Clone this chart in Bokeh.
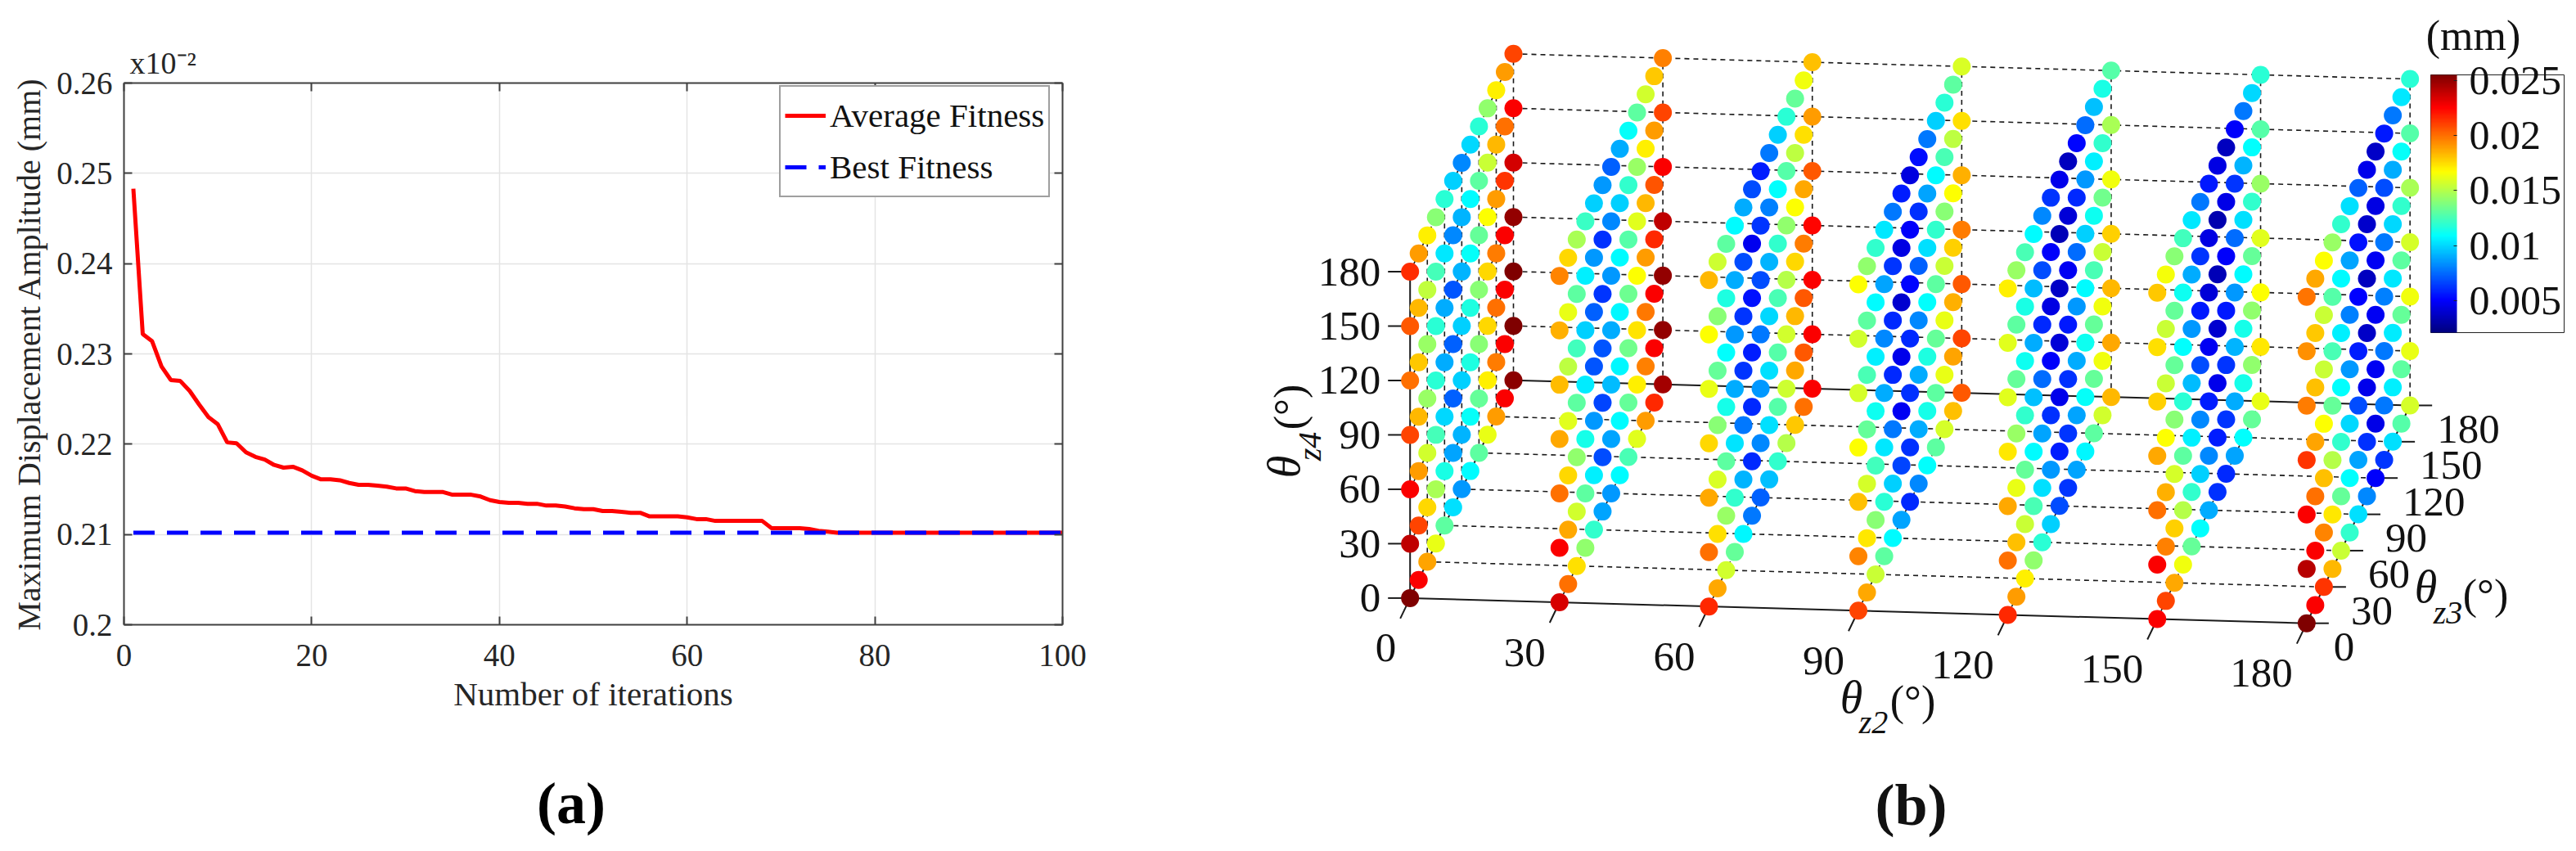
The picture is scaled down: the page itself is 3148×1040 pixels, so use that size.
import numpy as np
from bokeh.plotting import figure
from bokeh.layouts import row, column
from bokeh.embed import file_html
from bokeh.resources import INLINE
from bokeh.core.properties import value
from bokeh.models import (Range1d, LinearAxis, FixedTicker, Legend, LegendItem, Title,
                          LinearColorMapper, ColorBar, ColumnDataSource)
from bokeh.transform import transform

SERIF = "Liberation Serif"

# ---------- panel (a) data ----------
iterations = list(range(1, 101))
average_fitness = [
    .2483, .2322, .2314, .2286, .2271, .2270, .2259, .2244, .2230, .2222,
    .2202, .2201, .2191, .2186, .2183, .2177, .2174, .2175, .2171, .2165,
    .2161, .2161, .2160, .2157, .2155, .2155, .2154, .2153, .2151, .2151,
    .2148, .2147, .2147, .2147, .2144, .2144, .2144, .2142, .2138, .2136,
    .2135, .2135, .2134, .2134, .2132, .2132, .2131, .2129, .2128, .2128,
    .2126, .2126, .2125, .2124, .2124, .2120, .2120, .2120, .2120, .2119,
    .2117, .2117, .2115, .2115, .2115, .2115, .2115, .2115, .2107, .2107,
    .2107, .2107, .2106, .2104, .2103, .2102, .2102, .2102, .2102, .2102,
    .2102, .2102, .2102, .2102, .2102, .2102, .2102, .2102, .2102, .2102,
    .2102, .2102, .2102, .2102, .2102, .2102, .2102, .2102, .2102, .2102]
best_fitness = [.2102] * 100
x_ticks = [0, 20, 40, 60, 80, 100]
y_ticks = [0.2, 0.21, 0.22, 0.23, 0.24, 0.25, 0.26]
y_tick_labels = ["0.2", "0.21", "0.22", "0.23", "0.24", "0.25", "0.26"]

# ---------- panel (b) data: amplitude x1000 mm, per slice of theta_z2,
# one row per theta_z3 = 0, 15, ... 180; columns theta_z4 = 0, 30, ... 180
amp_z2_0 = [
    [25.5, 24, 22.6, 21, 20, 20.5, 21.5],
    [22.6, 21, 19, 18.3, 18, 18.3, 19],
    [18.8, 17.6, 15.7, 14.4, 14.4, 15.3, 17],
    [16.2, 14.8, 12.5, 11.8, 11.8, 12.5, 14],
    [13, 11.5, 10, 9, 9, 10.4, 11.8],
    [10.2, 8.8, 7.3, 7.3, 7, 8.2, 9.8],
    [8.5, 9.2, 9.8, 9.8, 9.2, 9.2, 8.2],
    [10.8, 11, 11.6, 11.6, 11, 10.8, 10],
    [13, 13.2, 14, 14, 13.2, 13, 11.8],
    [16.2, 17, 17.6, 17.6, 16.7, 15.5, 14.2],
    [19, 19.7, 20, 19.7, 19, 18.3, 17],
    [22.6, 22.6, 22.6, 22.6, 21.3, 20, 19],
    [25.2, 25.5, 25.5, 25, 23.5, 22.6, 21]]
amp_z2_30 = [
    [23.4, 22.6, 20, 18.7, 18.2, 18.5, 19.5],
    [20, 18.7, 17.6, 16, 15.2, 16.2, 17.6],
    [17.4, 15.7, 14.2, 13, 12.4, 13, 14.8],
    [14.2, 13, 11.4, 10.5, 9.8, 10.6, 12.2],
    [12, 10.6, 8.5, 7, 7.3, 8.5, 9.8],
    [8.8, 6.8, 6.6, 7, 6.3, 6.2, 8.5],
    [8.5, 8.8, 9.4, 9, 8.5, 8.2, 7.3],
    [10.8, 10.8, 10.7, 10.7, 10.8, 9.8, 9],
    [12.6, 13.2, 13.5, 13.4, 12.8, 12, 11],
    [16, 17, 17.3, 16.7, 16, 14.4, 13],
    [19, 19.6, 19.8, 19, 18.3, 17, 15.7],
    [21.6, 22.6, 22.6, 21.6, 20.6, 19, 18],
    [24.6, 25, 25, 24, 22.6, 21, 19.6]]
amp_z2_60 = [
    [21.6, 20, 18.7, 17.6, 16.2, 16.7, 18.3],
    [18.7, 17.4, 15.9, 14, 13.2, 14, 15.6],
    [15.7, 14.4, 13, 11.4, 10.9, 11.6, 13],
    [13.2, 12, 10.3, 9, 8.5, 9, 10.8],
    [10.7, 9.2, 7.8, 6.3, 6.3, 6.8, 9],
    [7.8, 6, 6, 5.7, 5.4, 4.7, 6.8],
    [7.3, 8.2, 8.5, 7.8, 6.8, 6.3, 5.7],
    [9.5, 10.2, 10.2, 10, 9.2, 8, 7.8],
    [12, 12.8, 12.8, 12.6, 12, 10.9, 9.8],
    [15, 15.6, 15.7, 15, 14.2, 12.8, 11.8],
    [18, 18.7, 18.3, 17.6, 16.7, 15.2, 13.2],
    [20, 20.5, 20.5, 19.7, 18.7, 17.4, 16.4],
    [22.6, 22.6, 22.6, 22.4, 20.5, 19, 18.1]]
amp_z2_90 = [
    [21, 19.5, 18.1, 16.7, 15.8, 15.7, 16.7],
    [18.7, 17.2, 15.8, 13.2, 12.6, 13, 14.2],
    [15.5, 14, 12.4, 11.2, 10.6, 10.8, 12],
    [13, 11.8, 10.4, 9, 8.2, 8.8, 10.4],
    [10.8, 9.8, 7.8, 6, 6, 6.3, 7.8],
    [8.8, 6.6, 4.8, 4.6, 4, 4.4, 5.7],
    [6, 6.2, 6.2, 6, 5.2, 5, 4.3],
    [8.2, 9, 9, 8.2, 7.3, 6.2, 5.3],
    [10.9, 11.4, 11.6, 10.9, 10.2, 8.8, 7.8],
    [13, 13, 13.2, 13, 12, 10.8, 9.8],
    [15.8, 16.2, 16.2, 15.5, 14, 12.6, 11.8],
    [18.1, 18.8, 18.5, 17.8, 16.7, 15.2, 13],
    [20.5, 21, 20.5, 19.7, 18.5, 17.4, 15.9]]
amp_z2_120 = [
    [21.6, 20, 18.7, 17.2, 16, 16, 17],
    [19, 18.1, 16.2, 14.4, 13.2, 13, 14.4],
    [17, 15.5, 13.2, 12, 11.2, 11.5, 12.6],
    [14.2, 12.6, 10.8, 9.5, 9, 9.4, 10.8],
    [11.8, 10.2, 8.8, 7.5, 6, 6.8, 8.2],
    [9.8, 8.5, 6.2, 5, 4.4, 5, 6.3],
    [6.8, 5.7, 4.6, 4.2, 3.8, 3.4, 4.6],
    [6.3, 6.3, 6.2, 5.6, 4.8, 4.2, 3.6],
    [8.8, 8.8, 9, 8.5, 7.5, 6, 5.2],
    [10.7, 11, 11.2, 10.8, 9.8, 8.5, 7.5],
    [13, 13.2, 13.2, 12.6, 11.2, 10.6, 9.5],
    [15.7, 16.4, 16.4, 15.5, 13.5, 12, 11.5],
    [18.3, 18.7, 18.3, 17.8, 16.4, 14.8, 12.8]]
amp_z2_150 = [
    [22.6, 22.6, 20, 18.7, 17.8, 17.4, 18],
    [21, 19.6, 18.5, 16.7, 15.5, 15.5, 16.5],
    [18.7, 17.8, 15.8, 14, 13.2, 13.2, 14],
    [16.4, 15, 13, 11.8, 10.9, 11.2, 12.4],
    [13.2, 12, 10.6, 9.4, 8.5, 9, 10.4],
    [10.9, 9.8, 8.2, 6.8, 5.6, 6.3, 7.8],
    [9, 8.2, 5.7, 4.8, 4.2, 4.4, 5.6],
    [6.2, 5.7, 4.6, 4, 3.4, 3.2, 4.4],
    [6, 6.3, 6.3, 5.6, 5, 4.5, 3.6],
    [8.8, 9, 9.2, 8.5, 7.5, 6.3, 5],
    [10.9, 11.4, 11.4, 10.8, 10.2, 9.2, 7.8],
    [13.2, 14.2, 14.2, 13.2, 12, 10.9, 10],
    [16.2, 17.2, 16.7, 16, 14.4, 12.8, 11.8]]
amp_z2_180 = [
    [25.5, 24.2, 22.6, 21.3, 19.7, 19.2, 19.9],
    [22.6, 22.6, 20, 18.8, 18.1, 18, 18.7],
    [21.3, 19.5, 18.1, 16.7, 15.5, 15.5, 16.7],
    [18.3, 17.2, 15, 13.2, 12.6, 12.8, 14.4],
    [15.5, 13.2, 12, 10.9, 10.6, 10.8, 12],
    [12, 10.9, 10, 8.5, 8, 8.8, 10.2],
    [10.2, 8.8, 6.8, 5.7, 5.1, 5.4, 7.3],
    [8.2, 6.2, 4.6, 3.8, 3.6, 3.9, 4.6],
    [5, 4.5, 4.8, 4.8, 4.8, 4.4, 3.8],
    [6.3, 7.8, 7.8, 8, 7.8, 6.8, 5.6],
    [10.2, 10.6, 10.5, 10.4, 10, 9, 7.8],
    [12.8, 13, 13.2, 13, 12, 11, 10.4],
    [15.8, 16.2, 16.4, 15.8, 14.8, 12.8, 11.8]]
amp_slices = [amp_z2_0, amp_z2_30, amp_z2_60, amp_z2_90, amp_z2_120, amp_z2_150, amp_z2_180]
z2_values = [0, 30, 60, 90, 120, 150, 180]
z3_fine = [0, 15, 30, 45, 60, 75, 90, 105, 120, 135, 150, 165, 180]
z4_values = [0, 30, 60, 90, 120, 150, 180]
angle_ticks = [0, 30, 60, 90, 120, 150, 180]
bar_ticks = [5, 10, 15, 20, 25]
bar_labels = {5: "0.005", 10: "0.01", 15: "0.015", 20: "0.02", 25: "0.025"}


def jet(n=256):
    out = []
    for i in range(n):
        t = i / (n - 1)
        r = np.clip(min(4 * t - 1.5, -4 * t + 4.5), 0, 1)
        g = np.clip(min(4 * t - 0.5, -4 * t + 3.5), 0, 1)
        b = np.clip(min(4 * t + 0.5, -4 * t + 2.5), 0, 1)
        out.append("#%02x%02x%02x" % (int(r * 255), int(g * 255), int(b * 255)))
    return out


# ---------- panel (a) ----------
LEFT_W, PAGE_H = 1508, 1040
pa = figure(width=LEFT_W, height=PAGE_H, output_backend="svg", toolbar_location=None,
            x_range=Range1d(0, 100), y_range=Range1d(0.2, 0.26),
            min_border_left=151, min_border_right=LEFT_W - 1298,
            min_border_top=101, min_border_bottom=PAGE_H - 763)
pa.outline_line_color = None
pa.background_fill_color = "white"
pa.xaxis.ticker = FixedTicker(ticks=x_ticks)
pa.yaxis.ticker = FixedTicker(ticks=y_ticks)
pa.yaxis.major_label_overrides = dict(zip(y_ticks, y_tick_labels))
pa.xaxis.axis_label = "Number of iterations"
pa.yaxis.axis_label = "Maximum Displacement Amplitude (mm)"
for ax in (pa.xaxis[0], pa.yaxis[0]):
    ax.major_label_text_font = SERIF
    ax.major_label_text_font_size = "39px"
    ax.major_label_text_color = "#262626"
    ax.axis_label_text_font = SERIF
    ax.axis_label_text_font_style = "normal"
    ax.axis_label_text_color = "#262626"
    ax.axis_line_color = "#404040"
    ax.axis_line_width = 2
    ax.major_tick_line_color = "#404040"
    ax.major_tick_line_width = 2
    ax.major_tick_in = 10
    ax.major_tick_out = 0
    ax.minor_tick_line_color = None
pa.xaxis.axis_label_text_font_size = "41px"
pa.yaxis.axis_label_text_font_size = "40px"
pa.xaxis.major_label_standoff = 24
pa.yaxis.major_label_standoff = 14
pa.xaxis.axis_label_standoff = 8
pa.yaxis.axis_label_standoff = 8
pa.xgrid.ticker = FixedTicker(ticks=x_ticks)
pa.ygrid.ticker = FixedTicker(ticks=y_ticks)
pa.grid.grid_line_color = "#e4e4e4"
pa.grid.grid_line_width = 1.5

for loc, ticks in (("above", x_ticks), ("right", y_ticks)):
    ax = LinearAxis(ticker=FixedTicker(ticks=ticks),
                    major_label_overrides={t: "" for t in ticks},
                    axis_line_color="#404040", axis_line_width=2,
                    major_tick_line_color="#404040", major_tick_line_width=2,
                    major_tick_in=10, major_tick_out=0, minor_tick_line_color=None)
    pa.add_layout(ax, loc)

r_avg = pa.line(iterations, average_fitness, line_color="#ff0000", line_width=5)
r_best = pa.line(iterations, best_fitness, line_color="#0000ff", line_width=5, line_dash="26 15")
legend = Legend(items=[LegendItem(label="Average Fitness", renderers=[r_avg]),
                       LegendItem(label="Best Fitness", renderers=[r_best])],
                location=(801, 522), margin=0, padding=5, spacing=3,
                label_height=60, glyph_height=60, glyph_width=50, label_standoff=5,
                label_text_font=SERIF, label_text_font_size="41px", label_text_color="#111111",
                border_line_color="#404040", border_line_width=2, background_fill_alpha=1)
pa.add_layout(legend, "center")
pa.add_layout(Title(text="x10\u207b\u00b2", align="left", offset=7, standoff=8,
                    text_font=SERIF, text_font_size="38px", text_font_style="normal",
                    text_color="#262626"), "above")
panel_tag = LinearAxis(ticker=FixedTicker(ticks=[]), axis_line_color=None,
                       major_tick_line_color=None, minor_tick_line_color=None,
                       major_tick_in=0, major_tick_out=0,
                       axis_label="(a)\u00a0\u00a0\u00a0", axis_label_standoff=68,
                       axis_label_text_font=SERIF, axis_label_text_font_size="72px",
                       axis_label_text_font_style="bold", axis_label_text_color="black")
pa.add_layout(panel_tag, "below")

# ---------- panel (b) ----------
X0, X1, Y0, Y1 = LEFT_W, 3148, 0, PAGE_H
pb = figure(width=X1 - X0, height=PAGE_H, output_backend="svg", toolbar_location=None,
            x_range=Range1d(X0, X1), y_range=Range1d(Y1, Y0),
            min_border=0, min_border_left=0, min_border_right=0, min_border_top=0, min_border_bottom=0)
pb.axis.visible = False
pb.grid.visible = False
pb.outline_line_color = None


def proj(z2, z3, z4):
    px = 1722.7 + 6.087 * np.asarray(z2, float) + 0.7017 * np.asarray(z3, float)
    py = 730.4 + 0.171 * np.asarray(z2, float) - 1.479 * np.asarray(z3, float) - 2.216 * np.asarray(z4, float)
    return px, py


dash_x, dash_y, solid_x, solid_y = [], [], [], []
def seg(store_x, store_y, a, b, off=(0, 0)):
    ax_, ay_ = proj(*a)
    bx_, by_ = proj(*b)
    store_x.append([float(ax_), float(bx_) + off[0]])
    store_y.append([float(ay_), float(by_) + off[1]])

for t in angle_ticks:
    seg(dash_x, dash_y, (t, 180, 0), (t, 180, 180))
    if t > 0:
        seg(dash_x, dash_y, (0, 180, t), (180, 180, t))
        seg(dash_x, dash_y, (0, 0, t), (0, 180, t))
    if 0 < t < 180:
        seg(dash_x, dash_y, (0, t, 0), (0, t, 180))
        seg(dash_x, dash_y, (0, t, 0), (180, t, 0))
        seg(dash_x, dash_y, (t, 0, 0), (t, 180, 0))
    seg(solid_x, solid_y, (t, 0, 0), (t, 0, 0), off=(-12, 25))
    seg(solid_x, solid_y, (180, t, 0), (180, t, 0), off=(27, 0))
    seg(solid_x, solid_y, (0, 0, t), (0, 0, t), off=(-27, 0))
seg(solid_x, solid_y, (0, 0, 0), (180, 0, 0))
seg(solid_x, solid_y, (0, 0, 0), (0, 0, 180))
seg(solid_x, solid_y, (0, 180, 0), (180, 180, 0))
seg(solid_x, solid_y, (0, 0, 0), (0, 180, 0))
seg(solid_x, solid_y, (180, 0, 0), (180, 180, 0))

pb.multi_line(dash_x, dash_y, line_color="#1a1a1a", line_width=1.6, line_dash="6 5")
pb.multi_line(solid_x, solid_y, line_color="#1a1a1a", line_width=2)

mapper = LinearColorMapper(palette=jet(), low=2.1, high=25.5)
pts_x, pts_y, pts_v = [], [], []
for z2, grid in zip(z2_values, amp_slices):
    for z3, col in zip(z3_fine, grid):
        for z4, v in zip(z4_values, col):
            px, py = proj(z2, z3, z4)
            pts_x.append(float(px)); pts_y.append(float(py)); pts_v.append(v)
src = ColumnDataSource(dict(x=pts_x, y=pts_y, v=pts_v))
pb.scatter("x", "y", source=src, size=22, marker="circle", line_color=None,
           fill_color=transform("v", mapper))


def texts(xs, ys, labels, size, align="center", base="middle", style="normal", angle=0.0):
    pb.text(xs, ys, text=labels, text_font=value(SERIF), text_font_size=value(size), text_align=align,
            text_baseline=base, text_font_style=style, text_color="#111111", angle=angle)


lab = [str(t) for t in angle_ticks]
a = np.array(angle_ticks, float)
z = np.zeros_like(a)
px, py = proj(z, z, a)
texts((px - 36).tolist(), py.tolist(), lab, "51px", align="right")
px, py = proj(a, z, z)
texts((px - 17).tolist(), (py + 61).tolist(), lab, "51px", align="right")
px, py = proj(z + 180, a, z)
texts((px + 33).tolist(), (py + 29).tolist(), lab, "51px", align="left")

texts([2262], [851], ["\u03b8"], "56px", style="italic")
texts([2289], [882], ["z2"], "40px", style="italic")
texts([2337], [856], ["(\u00b0)"], "52px")
texts([2964], [716], ["\u03b8"], "56px", style="italic")
texts([2991], [748], ["z3"], "40px", style="italic")
texts([3037], [726], ["(\u00b0)"], "52px")
VERT = np.pi / 2
texts([1568], [570], ["\u03b8"], "56px", style="italic", angle=VERT)
texts([1600], [545], ["z4"], "40px", style="italic", angle=VERT)
texts([1575], [497], ["(\u00b0)"], "52px", angle=VERT)
texts([3022], [43], ["(mm)"], "52px")
texts([2335], [983], ["(b)"], "72px", style="bold")

cbar = ColorBar(color_mapper=mapper, width=32, height=315, location=(2970 - X0, PAGE_H - 406),
                padding=0, margin=0, border_line_color="#222222", background_fill_alpha=0,
                ticker=FixedTicker(ticks=bar_ticks), major_label_overrides=bar_labels,
                major_label_text_font=SERIF, major_label_text_font_size="50px",
                major_label_text_color="#111111", label_standoff=15,
                major_tick_line_color="#222222", major_tick_in=4, major_tick_out=0,
                minor_tick_line_color=None)
pb.add_layout(cbar, "center")

page = row(pa, column(pb), spacing=0)
with open("out.html", "w") as fh:
    fh.write(file_html(page, INLINE))
